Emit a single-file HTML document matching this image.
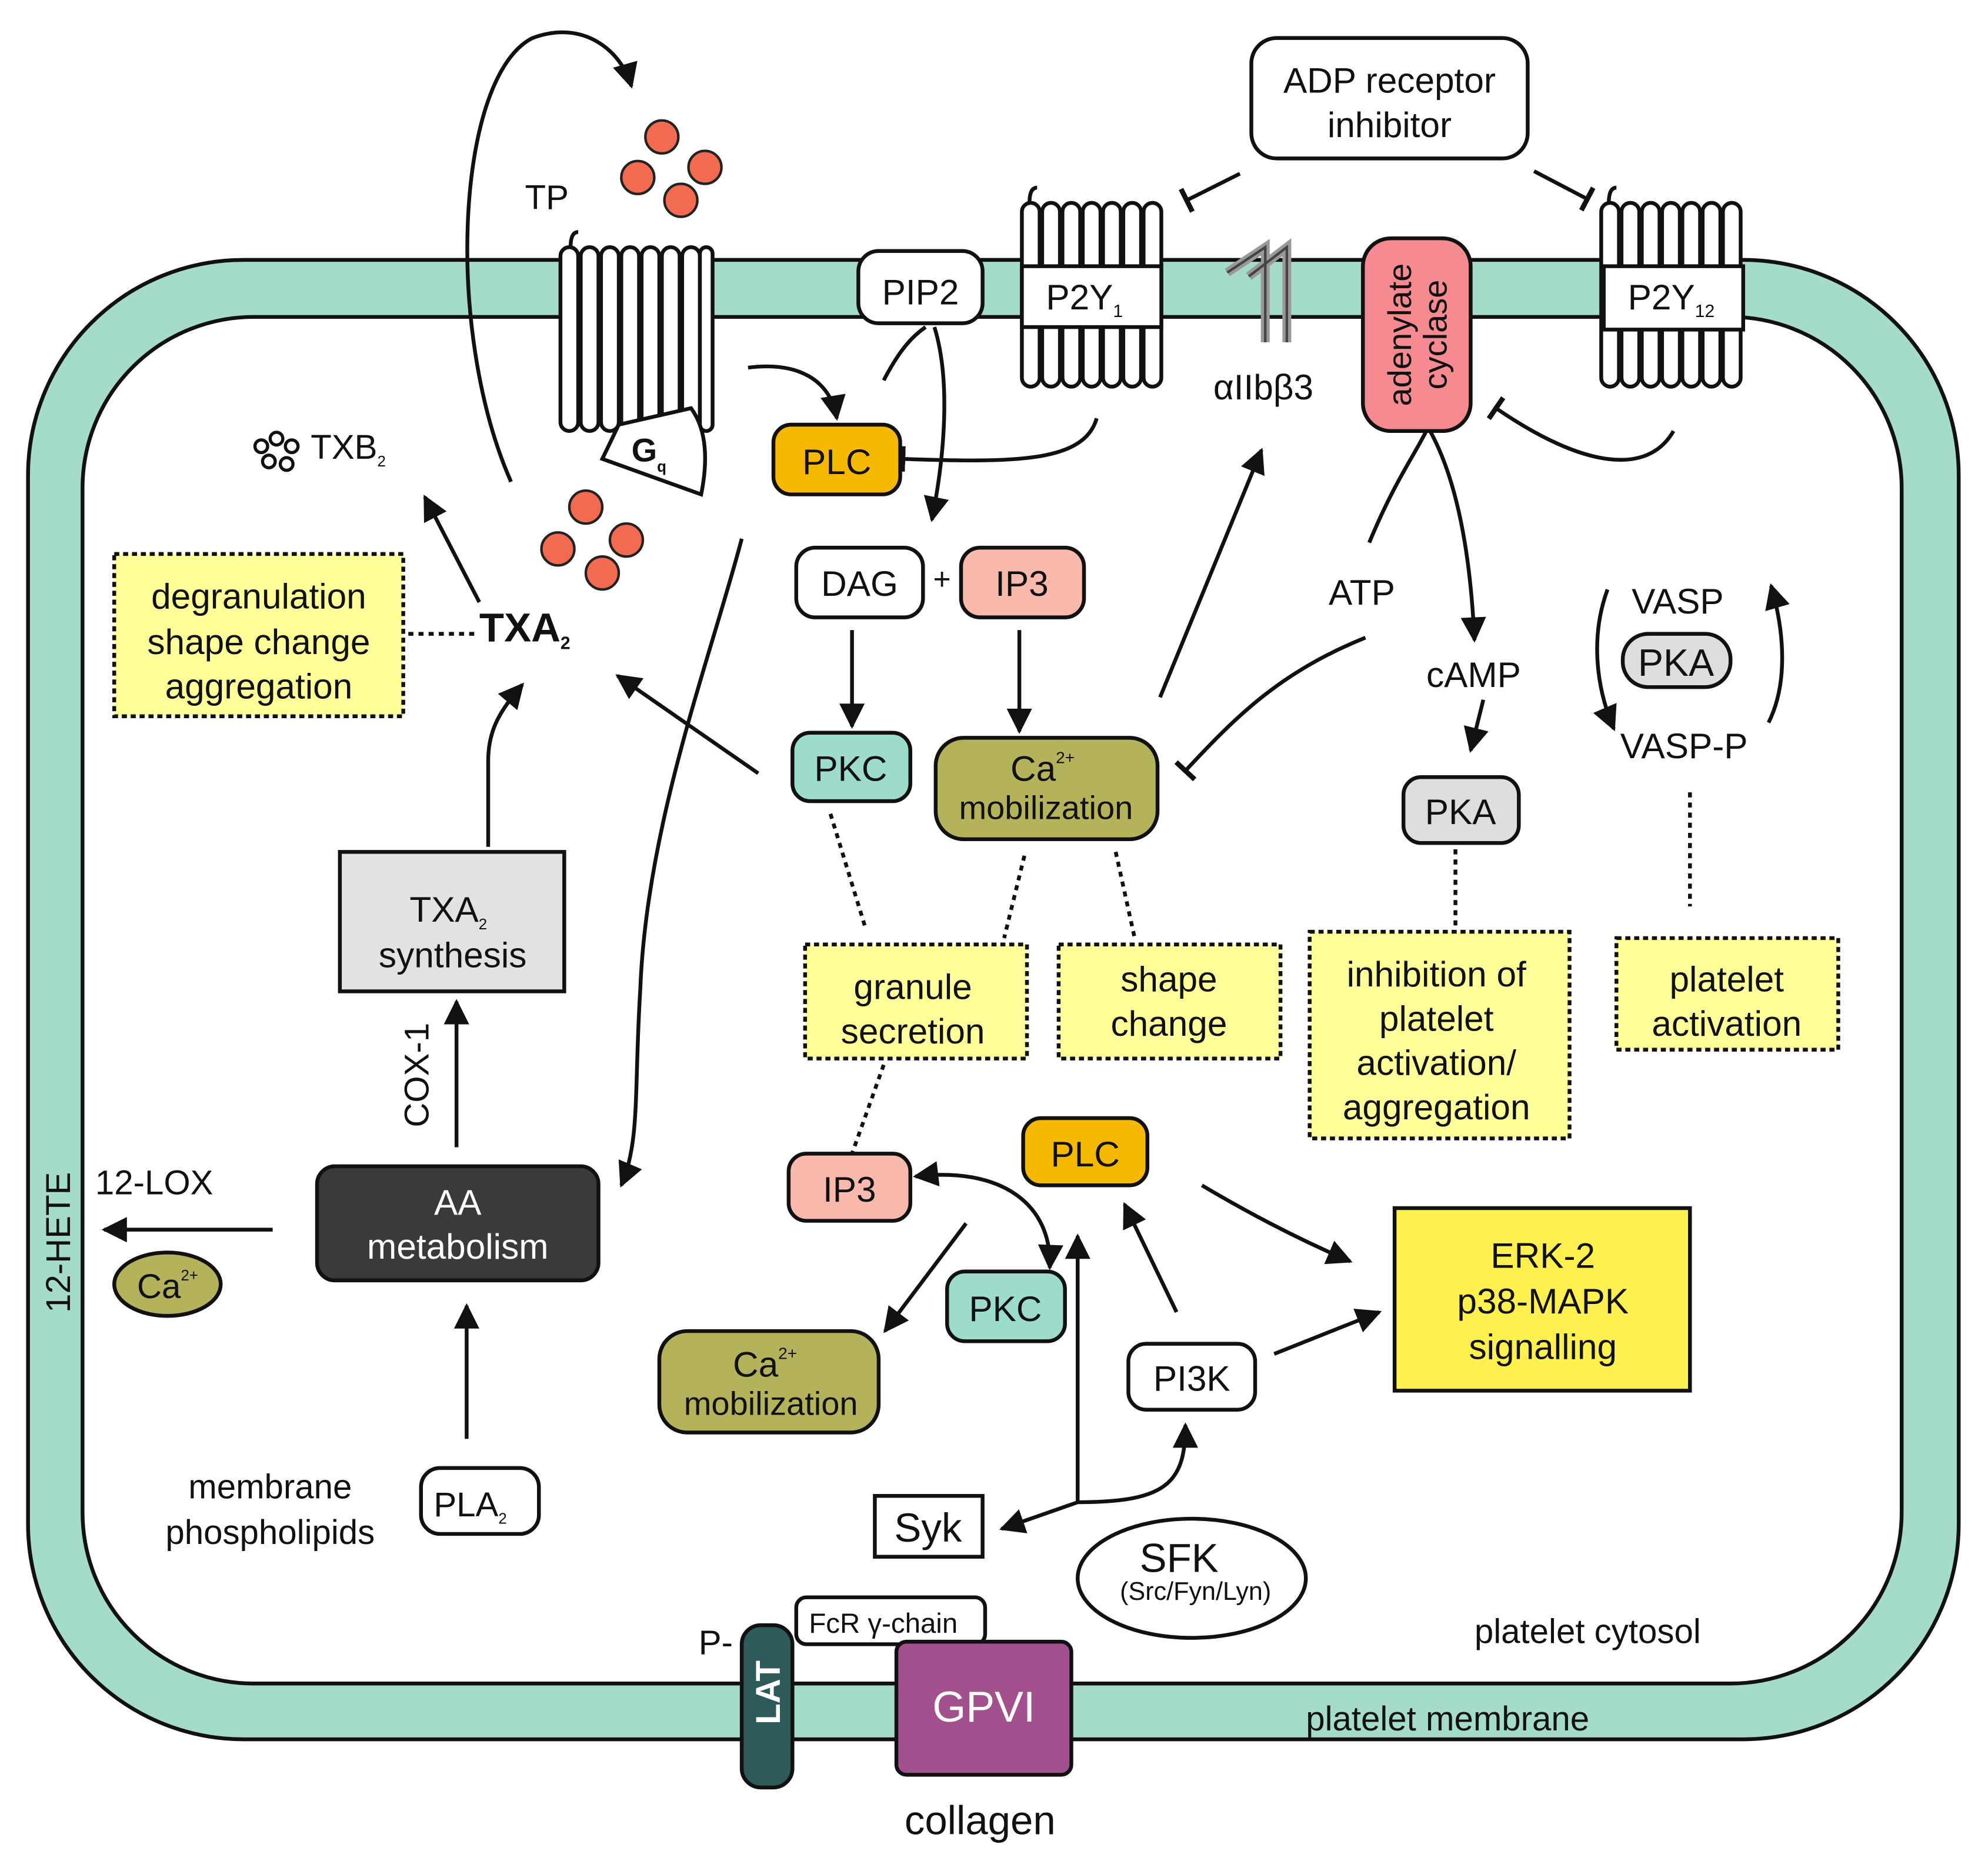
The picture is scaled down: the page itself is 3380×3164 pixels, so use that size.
<!DOCTYPE html>
<html><head><meta charset="utf-8"><style>
html,body{margin:0;padding:0;background:#fff;}
svg{display:block;}
text{font-family:"Liberation Sans",sans-serif;fill:#111;}
</style></head><body>
<svg width="3380" height="3164" viewBox="0 0 1568 1468" xmlns="http://www.w3.org/2000/svg">
<defs>
<marker id="A" viewBox="0 0 10 10" refX="9" refY="5" markerWidth="22" markerHeight="20" markerUnits="userSpaceOnUse" orient="auto-start-reverse"><path d="M0,0 L10,5 L0,10 z" fill="#111"/></marker>
<marker id="T" viewBox="0 0 4 20" refX="2" refY="10" markerWidth="4" markerHeight="26" markerUnits="userSpaceOnUse" orient="auto"><rect x="0" y="0" width="4" height="20" fill="#111"/></marker>
</defs>
<!-- membrane -->
<rect x="22" y="205" width="1523" height="1167" rx="170" fill="#a4dcc8" stroke="#111" stroke-width="3"/>
<rect x="65" y="250" width="1435" height="1078" rx="135" fill="#fff" stroke="#111" stroke-width="3"/>

<!-- TP receptor -->
<g fill="#fff" stroke="#111" stroke-width="3">
<rect x="442" y="195" width="14" height="145" rx="7"/><rect x="458" y="195" width="14" height="145" rx="7"/>
<rect x="474" y="195" width="14" height="145" rx="7"/><rect x="490" y="195" width="14" height="145" rx="7"/>
<rect x="506" y="195" width="14" height="145" rx="7"/><rect x="522" y="195" width="14" height="145" rx="7"/>
<rect x="538" y="195" width="14" height="145" rx="7"/><rect x="552" y="195" width="10" height="145" rx="5"/>
<path d="M450,195 q0,-12 6,-12"/>
<path d="M488,335 L545,322 Q562,345 553,390 L475,362 Z"/>
</g>
<text x="498" y="364" font-size="26" font-weight="bold">G<tspan font-size="12" dy="8">q</tspan></text>
<text x="414" y="165" font-size="27">TP</text>

<!-- red dots -->
<g fill="#f26a50" stroke="#222" stroke-width="2">
<circle cx="522" cy="108" r="13"/><circle cx="556" cy="132" r="13"/><circle cx="503" cy="140" r="13"/><circle cx="537" cy="158" r="13"/>
<circle cx="462" cy="400" r="13"/><circle cx="494" cy="426" r="13"/><circle cx="440" cy="433" r="13"/><circle cx="475" cy="452" r="13"/>
</g>
<path d="M403,380 C350,260 360,60 420,30 C460,15 490,40 498,68" fill="none" stroke="#111" stroke-width="3" marker-end="url(#A)"/>

<!-- P2Y1 -->
<g fill="#fff" stroke="#111" stroke-width="3">
<rect x="806" y="160" width="14" height="145" rx="7"/><rect x="822" y="160" width="14" height="145" rx="7"/>
<rect x="838" y="160" width="14" height="145" rx="7"/><rect x="854" y="160" width="14" height="145" rx="7"/>
<rect x="870" y="160" width="14" height="145" rx="7"/><rect x="886" y="160" width="14" height="145" rx="7"/>
<rect x="902" y="160" width="14" height="145" rx="7"/>
<path d="M812,160 q0,-12 6,-12"/>
<rect x="806" y="210" width="110" height="48"/>
</g>
<text x="825" y="244" font-size="28">P2Y<tspan font-size="14" dy="6">1</tspan></text>

<!-- P2Y12 -->
<g fill="#fff" stroke="#111" stroke-width="3">
<rect x="1263" y="160" width="14" height="145" rx="7"/><rect x="1279" y="160" width="14" height="145" rx="7"/>
<rect x="1295" y="160" width="14" height="145" rx="7"/><rect x="1311" y="160" width="14" height="145" rx="7"/>
<rect x="1327" y="160" width="14" height="145" rx="7"/><rect x="1343" y="160" width="14" height="145" rx="7"/>
<rect x="1359" y="160" width="14" height="145" rx="7"/>
<path d="M1269,160 q0,-12 6,-12"/>
<rect x="1265" y="210" width="110" height="50"/>
</g>
<text x="1284" y="244" font-size="28">P2Y<tspan font-size="14" dy="6">12</tspan></text>

<!-- integrin -->
<g fill="none" stroke="#999" stroke-width="7"><path d="M998,270 L998,195 L968,215"/><path d="M1015,270 L1015,195 L985,218"/></g>
<g fill="none" stroke="#444" stroke-width="2"><path d="M998,270 L998,195 L968,215"/><path d="M1015,270 L1015,195 L985,218"/></g>
<text x="957" y="315" font-size="28">αIIbβ3</text>

<!-- adenylate cyclase -->
<rect x="1075" y="188" width="85" height="152" rx="22" fill="#f58a90" stroke="#111" stroke-width="3"/>
<text transform="translate(1118,264) rotate(-90)" text-anchor="middle" font-size="26"><tspan x="0" dy="-5">adenylate</tspan><tspan x="0" dy="28">cyclase</tspan></text>

<!-- ADP inhibitor -->
<rect x="987" y="30" width="218" height="95" rx="20" fill="#fff" stroke="#111" stroke-width="3"/>
<text x="1096" y="73" font-size="28" text-anchor="middle">ADP receptor</text>
<text x="1096" y="108" font-size="28" text-anchor="middle">inhibitor</text>
<path d="M978,137 L936,158" stroke="#111" stroke-width="3" marker-end="url(#T)"/>
<path d="M1210,135 L1252,157" stroke="#111" stroke-width="3" marker-end="url(#T)"/>

<!-- PIP2 PLC -->
<rect x="677" y="198" width="98" height="57" rx="16" fill="#fff" stroke="#111" stroke-width="3"/>
<text x="726" y="240" font-size="28" text-anchor="middle">PIP2</text>
<rect x="610" y="335" width="100" height="55" rx="14" fill="#f7b800" stroke="#111" stroke-width="3"/>
<text x="660" y="374" font-size="28" text-anchor="middle">PLC</text>
<path d="M590,290 C630,285 655,300 660,330" fill="none" stroke="#111" stroke-width="3" marker-end="url(#A)"/>
<path d="M697,300 C710,275 720,265 730,258" fill="none" stroke="#111" stroke-width="3"/>
<path d="M737,258 C750,300 745,360 735,410" fill="none" stroke="#111" stroke-width="3" marker-end="url(#A)"/>
<path d="M865,330 C855,365 800,365 712,362" fill="none" stroke="#111" stroke-width="3" marker-end="url(#T)"/>

<!-- DAG IP3 -->
<rect x="628" y="432" width="100" height="55" rx="15" fill="#fff" stroke="#111" stroke-width="3"/>
<text x="678" y="470" font-size="28" text-anchor="middle">DAG</text>
<text x="743" y="465" font-size="24" text-anchor="middle">+</text>
<rect x="758" y="432" width="97" height="55" rx="15" fill="#f9b9ad" stroke="#111" stroke-width="3"/>
<text x="806" y="470" font-size="28" text-anchor="middle">IP3</text>
<path d="M672,497 L672,573" stroke="#111" stroke-width="3" marker-end="url(#A)"/>
<path d="M804,497 L804,577" stroke="#111" stroke-width="3" marker-end="url(#A)"/>

<!-- PKC Ca -->
<rect x="625" y="578" width="93" height="54" rx="14" fill="#9ddcca" stroke="#111" stroke-width="3"/>
<text x="671" y="616" font-size="28" text-anchor="middle">PKC</text>
<rect x="738" y="582" width="175" height="80" rx="22" fill="#b4b25a" stroke="#111" stroke-width="3"/>
<text x="797" y="616" font-size="28">Ca<tspan font-size="13" dy="-14">2+</tspan></text>
<text x="825" y="646" font-size="26" text-anchor="middle">mobilization</text>
<path d="M598,610 L487,533" stroke="#111" stroke-width="3" marker-end="url(#A)"/>
<path d="M915,550 L995,355" stroke="#111" stroke-width="3" marker-end="url(#A)"/>
<path d="M1077,503 C1010,530 975,565 935,608" fill="none" stroke="#111" stroke-width="3" marker-end="url(#T)"/>
<path d="M585,425 C560,520 510,650 505,780 C500,860 505,900 490,935" fill="none" stroke="#111" stroke-width="3" marker-end="url(#A)"/>

<!-- dotted connections -->
<g stroke="#111" stroke-width="3" stroke-dasharray="4,4" fill="none">
<path d="M655,642 L682,730"/><path d="M808,675 L792,740"/><path d="M880,672 L895,740"/>
<path d="M1148,670 L1148,730"/><path d="M1333,625 L1333,715"/><path d="M697,840 L672,910"/>
<path d="M322,500 L375,500"/>
</g>

<!-- yellow boxes -->
<g fill="#ffff99" stroke="#111" stroke-width="3" stroke-dasharray="4,3">
<rect x="90" y="437" width="228" height="128"/>
<rect x="635" y="745" width="175" height="90"/>
<rect x="835" y="745" width="175" height="90"/>
<rect x="1033" y="735" width="205" height="163"/>
<rect x="1275" y="740" width="175" height="88"/>
</g>
<g font-size="28" text-anchor="middle">
<text x="204" y="480">degranulation</text><text x="204" y="516">shape change</text><text x="204" y="551">aggregation</text>
<text x="720" y="788">granule</text><text x="720" y="823">secretion</text>
<text x="922" y="782">shape</text><text x="922" y="817">change</text>
<text x="1133" y="778">inhibition of</text><text x="1133" y="813">platelet</text><text x="1133" y="848">activation/</text><text x="1133" y="883">aggregation</text>
<text x="1362" y="782">platelet</text><text x="1362" y="817">activation</text>
</g>

<!-- TXA2 TXB2 -->
<text x="378" y="506" font-size="32" font-weight="bold">TXA<tspan font-size="14" dy="6">2</tspan></text>
<path d="M378,475 L335,392" stroke="#111" stroke-width="3" marker-end="url(#A)"/>
<g fill="#fff" stroke="#111" stroke-width="2.5"><circle cx="206" cy="352" r="5"/><circle cx="218" cy="346" r="5"/><circle cx="230" cy="352" r="5"/><circle cx="212" cy="364" r="5"/><circle cx="226" cy="366" r="5"/></g>
<text x="245" y="362" font-size="27">TXB<tspan font-size="12" dy="6">2</tspan></text>

<!-- TXA2 synthesis -->
<rect x="268" y="672" width="177" height="110" fill="#e2e2e2" stroke="#111" stroke-width="3"/>
<text x="323" y="727" font-size="28">TXA<tspan font-size="12" dy="6">2</tspan></text>
<text x="357" y="763" font-size="28" text-anchor="middle">synthesis</text>
<path d="M385,668 L385,600 C385,575 395,560 412,540" fill="none" stroke="#111" stroke-width="3" marker-end="url(#A)"/>
<path d="M360,905 L360,790" stroke="#111" stroke-width="3" marker-end="url(#A)"/>
<text transform="translate(338,848) rotate(-90)" font-size="27" text-anchor="middle">COX-1</text>

<!-- AA metabolism -->
<rect x="250" y="920" width="222" height="90" rx="14" fill="#3a3a3a" stroke="#111" stroke-width="3"/>
<text x="361" y="958" font-size="28" text-anchor="middle" style="fill:#fff">AA</text>
<text x="361" y="993" font-size="28" text-anchor="middle" style="fill:#fff">metabolism</text>
<path d="M368,1135 L368,1030" stroke="#111" stroke-width="3" marker-end="url(#A)"/>
<path d="M215,970 L82,970" stroke="#111" stroke-width="3" marker-end="url(#A)"/>
<text x="75" y="942" font-size="27">12-LOX</text>
<ellipse cx="132" cy="1013" rx="42" ry="25" fill="#b4b25a" stroke="#111" stroke-width="3"/>
<text x="108" y="1024" font-size="27">Ca<tspan font-size="12" dy="-14">2+</tspan></text>
<text transform="translate(55,980) rotate(-90)" font-size="27" text-anchor="middle">12-HETE</text>
<text x="213" y="1182" font-size="27" text-anchor="middle">membrane</text>
<text x="213" y="1218" font-size="27" text-anchor="middle">phospholipids</text>
<rect x="332" y="1158" width="93" height="52" rx="15" fill="#fff" stroke="#111" stroke-width="3"/>
<text x="342" y="1196" font-size="27">PLA<tspan font-size="12" dy="6">2</tspan></text>

<!-- right side cAMP etc -->
<path d="M1080,428 C1100,380 1115,360 1125,340" fill="none" stroke="#111" stroke-width="3"/>
<path d="M1128,340 C1150,380 1160,440 1163,505" fill="none" stroke="#111" stroke-width="3" marker-end="url(#A)"/>
<path d="M1320,340 C1300,375 1250,370 1180,322" fill="none" stroke="#111" stroke-width="3" marker-end="url(#T)"/>
<text x="1048" y="477" font-size="28">ATP</text>
<text x="1125" y="542" font-size="28">cAMP</text>
<path d="M1170,552 L1160,592" stroke="#111" stroke-width="3" marker-end="url(#A)"/>
<rect x="1107" y="613" width="91" height="52" rx="14" fill="#dedede" stroke="#111" stroke-width="3"/>
<text x="1152" y="650" font-size="28" text-anchor="middle">PKA</text>
<text x="1287" y="484" font-size="28">VASP</text>
<rect x="1280" y="500" width="85" height="42" rx="20" fill="#dedede" stroke="#111" stroke-width="3"/>
<text x="1322" y="533" font-size="30" text-anchor="middle">PKA</text>
<text x="1278" y="598" font-size="28">VASP-P</text>
<path d="M1268,465 C1255,500 1258,540 1273,575" fill="none" stroke="#111" stroke-width="3" marker-end="url(#A)"/>
<path d="M1395,570 C1410,540 1408,500 1397,462" fill="none" stroke="#111" stroke-width="3" marker-end="url(#A)"/>

<!-- lower cascade -->
<rect x="807" y="882" width="98" height="53" rx="14" fill="#f7b800" stroke="#111" stroke-width="3"/>
<text x="856" y="920" font-size="28" text-anchor="middle">PLC</text>
<rect x="622" y="910" width="96" height="53" rx="14" fill="#f9b9ad" stroke="#111" stroke-width="3"/>
<text x="670" y="948" font-size="28" text-anchor="middle">IP3</text>
<rect x="747" y="1003" width="93" height="55" rx="14" fill="#9ddcca" stroke="#111" stroke-width="3"/>
<text x="793" y="1042" font-size="28" text-anchor="middle">PKC</text>
<rect x="520" y="1050" width="173" height="80" rx="22" fill="#b4b25a" stroke="#111" stroke-width="3"/>
<text x="578" y="1086" font-size="28">Ca<tspan font-size="13" dy="-14">2+</tspan></text>
<text x="608" y="1116" font-size="26" text-anchor="middle">mobilization</text>
<rect x="890" y="1060" width="100" height="52" rx="14" fill="#fff" stroke="#111" stroke-width="3"/>
<text x="940" y="1097" font-size="28" text-anchor="middle">PI3K</text>
<rect x="1100" y="953" width="233" height="144" fill="#fef04e" stroke="#111" stroke-width="3"/>
<text x="1217" y="1000" font-size="28" text-anchor="middle">ERK-2</text>
<text x="1217" y="1036" font-size="28" text-anchor="middle">p38-MAPK</text>
<text x="1217" y="1072" font-size="28" text-anchor="middle">signalling</text>
<rect x="690" y="1180" width="85" height="48" fill="#fff" stroke="#111" stroke-width="3"/>
<text x="732" y="1216" font-size="32" text-anchor="middle">Syk</text>
<ellipse cx="940" cy="1245" rx="90" ry="47" fill="#fff" stroke="#111" stroke-width="3"/>
<text x="930" y="1240" font-size="32" text-anchor="middle">SFK</text>
<text x="943" y="1262" font-size="20" text-anchor="middle">(Src/Fyn/Lyn)</text>

<g stroke="#111" stroke-width="3" fill="none">
<path d="M762,965 L698,1050" marker-end="url(#A)"/>
<path d="M850,1185 L850,975" marker-end="url(#A)"/>
<path d="M850,1185 L790,1206" marker-end="url(#A)"/>
<path d="M850,1185 C920,1185 935,1170 935,1124" marker-end="url(#A)"/>
<path d="M928,1035 L887,950" marker-end="url(#A)"/>
<path d="M948,935 C990,960 1030,980 1065,995" marker-end="url(#A)"/>
<path d="M1005,1068 L1088,1035" marker-end="url(#A)"/>
<path d="M722,928 C790,920 830,950 828,1000" marker-start="url(#A)" marker-end="url(#A)"/>
</g>

<!-- bottom labels -->
<text x="1163" y="1296" font-size="27">platelet cytosol</text>
<text x="1030" y="1365" font-size="27">platelet membrane</text>
<rect x="628" y="1260" width="149" height="37" rx="8" fill="#fff" stroke="#111" stroke-width="3"/>
<text x="638" y="1288" font-size="22">FcR γ-chain</text>
<rect x="585" y="1282" width="40" height="128" rx="15" fill="#2e5a5a" stroke="#111" stroke-width="3"/>
<text transform="translate(615,1335) rotate(-90)" font-size="27" font-weight="bold" text-anchor="middle" style="fill:#fff">LAT</text>
<text x="551" y="1305" font-size="27">P-</text>
<rect x="707" y="1295" width="138" height="105" rx="8" fill="#a3508f" stroke="#111" stroke-width="3"/>
<text x="776" y="1358" font-size="34" text-anchor="middle" style="fill:#fff">GPVI</text>
<text x="773" y="1447" font-size="32" text-anchor="middle">collagen</text>
</svg>
</body></html>
